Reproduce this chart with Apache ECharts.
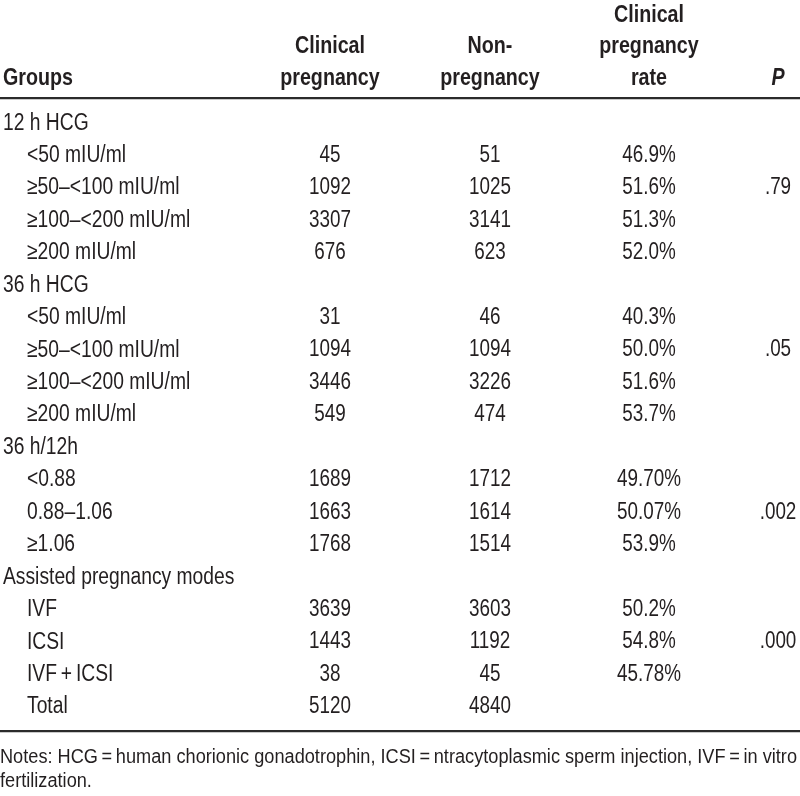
<!DOCTYPE html>
<html><head><meta charset="utf-8">
<script src="https://cdn.jsdelivr.net/npm/echarts@6/dist/echarts.min.js"></script>
<style>html,body{margin:0;padding:0;background:#fff}#c{width:800px;height:796px}</style>
</head><body><div id="c"></div>
<script>
// ---- data ----
const headerCol0 = ['', '', 'Groups'];
const headerCol1 = ['', 'Clinical', 'pregnancy'];
const headerCol2 = ['', 'Non-', 'pregnancy'];
const headerCol3 = ['Clinical', 'pregnancy', 'rate'];
const headerCol4 = ['', '', 'P'];

const rowLabels = ['12 h HCG','<50 mIU/ml','≥50–<100 mIU/ml','≥100–<200 mIU/ml','≥200 mIU/ml',
  '36 h HCG','<50 mIU/ml','≥50–<100 mIU/ml','≥100–<200 mIU/ml','≥200 mIU/ml',
  '36 h/12h','<0.88','0.88–1.06','≥1.06',
  'Assisted pregnancy modes','IVF','ICSI','IVF\u2009+\u2009ICSI','Total'];
const rowLevel = [0,1,1,1,1, 0,1,1,1,1, 0,1,1,1, 0,1,1,1,1];
const clinicalPregnancy = [null,45,1092,3307,676, null,31,1094,3446,549, null,1689,1663,1768, null,3639,1443,38,5120];
const nonPregnancy = [null,51,1025,3141,623, null,46,1094,3226,474, null,1712,1614,1514, null,3603,1192,45,4840];
const pregnancyRate = [null,'46.9%','51.6%','51.3%','52.0%', null,'40.3%','50.0%','51.6%','53.7%', null,'49.70%','50.07%','53.9%', null,'50.2%','54.8%','45.78%',null];
const pValues = [null,null,'.79',null,null, null,null,'.05',null,null, null,null,'.002',null, null,null,'.000',null,null];
const notesLine1 = 'Notes: HCG\u2009=\u2009human chorionic gonadotrophin, ICSI\u2009=\u2009ntracytoplasmic sperm injection, IVF\u2009=\u2009in vitro';
const notesLine2 = 'fertilization.';

// ---- layout / style ----
const FONT = '"Liberation Sans", Arial, sans-serif';
const TXT = '#231f20';
const NARROW = 0.82;
const COL_X = [3, 330, 490, 649, 778];
const INDENT = 24;
const NOTES_FONT = '20px ' + FONT;

// horizontal scale for the justified-looking notes line (fills the table width)
const mctx = document.createElement('canvas').getContext('2d');
mctx.font = NOTES_FONT;
const notesScale = Math.min(0.95, 797 / mctx.measureText(notesLine1).width);

const chart = echarts.init(document.getElementById('c'), null, {renderer: 'canvas'});

function cellSeries(values, col, gridIdx, opts) {
  opts = opts || {};
  const data = [], texts = [], indents = [];
  values.forEach((v, i) => {
    if (v === null || v === '') return;
    data.push([COL_X[col], i]);
    texts.push(String(v));
    indents.push(opts.levels && opts.levels[i] === 1 ? INDENT : 0);
  });
  const font = (opts.italic ? 'italic ' : '') + (opts.bold ? 'bold ' : '') + (opts.size || 23) + 'px ' + FONT;
  return {
    type: 'custom', xAxisIndex: gridIdx, yAxisIndex: gridIdx, silent: true,
    data: data,
    renderItem: function (params, api) {
      const pt = api.coord([api.value(0), api.value(1)]);
      return {
        type: 'text', x: pt[0] + indents[params.dataIndex], y: pt[1], scaleX: NARROW,
        style: {text: texts[params.dataIndex], font: font, fill: TXT,
          align: col === 0 ? 'left' : 'center', verticalAlign: 'middle'}
      };
    }
  };
}

const option = {
  animation: false,
  grid: [
    {left: 0, right: 0, top: -4, height: 97.5},
    {left: 0, right: 0, top: 106.8, height: 616.4}
  ],
  xAxis: [
    {type: 'value', min: 0, max: 800, gridIndex: 0, show: false},
    {type: 'value', min: 0, max: 800, gridIndex: 1, show: false}
  ],
  yAxis: [
    {type: 'category', inverse: true, gridIndex: 0, show: false, data: headerCol0.map((_, i) => String(i))},
    {type: 'category', inverse: true, gridIndex: 1, show: false, data: rowLabels.map((_, i) => String(i))}
  ],
  series: [
    cellSeries(headerCol0, 0, 0, {bold: true, size: 24}),
    cellSeries(headerCol1, 1, 0, {bold: true, size: 24}),
    cellSeries(headerCol2, 2, 0, {bold: true, size: 24}),
    cellSeries(headerCol3, 3, 0, {bold: true, size: 24}),
    cellSeries(headerCol4, 4, 0, {bold: true, italic: true, size: 24}),
    cellSeries(rowLabels, 0, 1, {levels: rowLevel, size: 23.5}),
    cellSeries(clinicalPregnancy, 1, 1),
    cellSeries(nonPregnancy, 2, 1),
    cellSeries(pregnancyRate, 3, 1),
    cellSeries(pValues, 4, 1)
  ],
  graphic: [
    {type: 'rect', shape: {x: 0, y: 97, width: 800, height: 2.2}, style: {fill: '#2b2b2b'}},
    {type: 'rect', shape: {x: 0, y: 730, width: 800, height: 2.2}, style: {fill: '#2b2b2b'}},
    {type: 'text', x: 0, y: 757, scaleX: notesScale, style: {text: notesLine1, font: NOTES_FONT, fill: TXT, verticalAlign: 'middle'}},
    {type: 'text', x: 0, y: 781, scaleX: notesScale, style: {text: notesLine2, font: NOTES_FONT, fill: TXT, verticalAlign: 'middle'}}
  ]
};
chart.setOption(option);
</script></body></html>
